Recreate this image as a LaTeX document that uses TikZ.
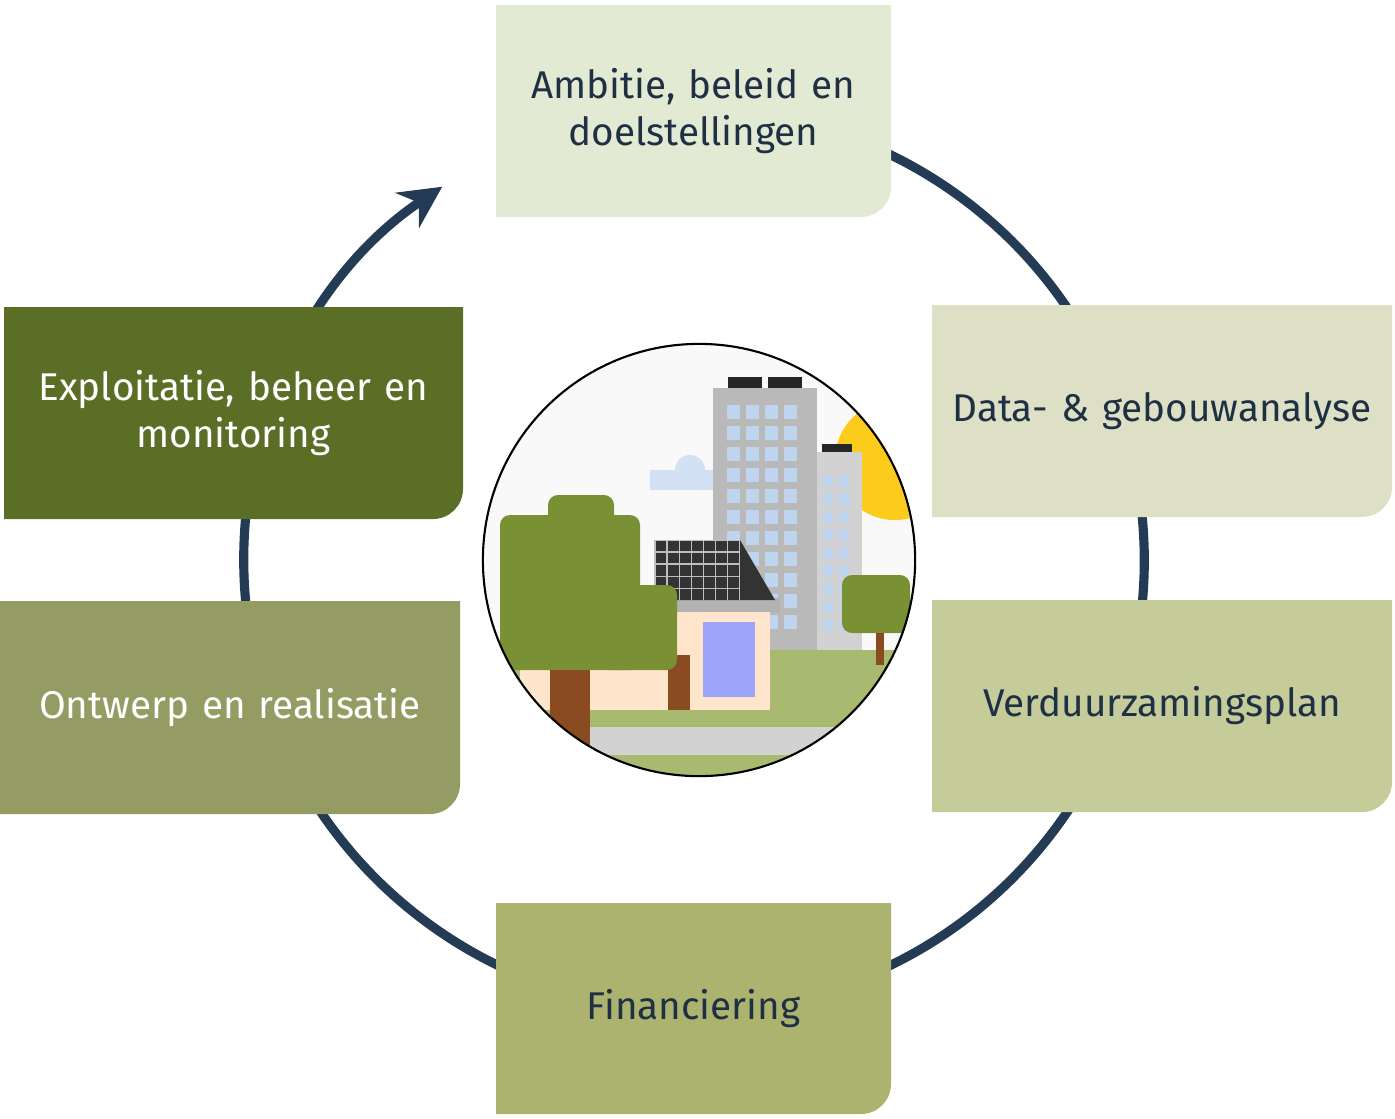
\documentclass[tikz,border=0pt]{standalone}
\usepackage{fontspec}
\setmainfont{Fira Sans}
\usepackage{tikz}
\usetikzlibrary{calc,arrows.meta}
\definecolor{ringblue}{HTML}{243B55}
\definecolor{textblue}{HTML}{1F3044}
\definecolor{boxA}{HTML}{E3EAD3}
\definecolor{boxB}{HTML}{DDE0C4}
\definecolor{boxC}{HTML}{C6CB9A}
\definecolor{boxD}{HTML}{ABB36F}
\definecolor{boxE}{HTML}{959C63}
\definecolor{boxF}{HTML}{5B6E25}
\definecolor{leaf}{HTML}{7A9035}
\definecolor{trunk}{HTML}{8A4B20}
\definecolor{glass}{HTML}{BFD4EF}
\definecolor{lawn}{HTML}{A8BA70}
\tikzset{
  steplabel/.style={font=\fontsize{11}{13.5}\selectfont, align=center, text width=4.5cm},
}
% box with only the lower right corner rounded
\newcommand{\stepbox}[6]{%
  \fill[#4] (#2) -- (#2 -| #3) [rounded corners=0.3cm] -- (#3) [sharp corners] -- (#3 -| #2) -- cycle;
  \node[steplabel, text=#5] (#1) at ($(#2)!0.5!(#3)$) {#6};
}
\begin{document}
\begin{tikzpicture}[x=0.01cm, y=-0.01cm]
        \useasboundingbox (0,0) rectangle (1395,1118);
        % Centre of the cycle
        \coordinate (O) at (694,560);
        % Ring with arrow
        \draw[ringblue, line width=2.6pt, -{Stealth[length=0.42cm,width=0.42cm]}]
          (O) ++(95:4.5cm) arc[start angle=95, end angle=-236, radius=4.5cm];
        % Steps
        \coordinate (a1) at (496,5);    \coordinate (a2) at (891,217);
        \coordinate (b1) at (932,305);  \coordinate (b2) at (1392,517);
        \coordinate (c1) at (932,600);  \coordinate (c2) at (1392,812);
        \coordinate (d1) at (496,903);  \coordinate (d2) at (891,1114);
        \coordinate (e1) at (0,601);    \coordinate (e2) at (460,814);
        \coordinate (f1) at (4,307);    \coordinate (f2) at (463,519);
        \stepbox{ambitie}{a1}{a2}{boxA}{textblue}{Ambitie, beleid en\\doelstellingen}
        \stepbox{analyse}{b1}{b2}{boxB}{textblue}{Data- \& gebouwanalyse}
        \stepbox{plan}{c1}{c2}{boxC}{textblue}{Verduurzamingsplan}
        \stepbox{financiering}{d1}{d2}{boxD}{textblue}{Financiering}
        \stepbox{ontwerp}{e1}{e2}{boxE}{white}{Ontwerp en realisatie}
        \stepbox{beheer}{f1}{f2}{boxF}{white}{Exploitatie, beheer en\\monitoring}
        % Illustration in the middle
        \coordinate (P) at (699,560);
        \begin{scope}
          \clip (P) circle[radius=2.16cm];
          \fill[white!95!gray] (P) circle[radius=2.16cm];
          \fill[yellow!60!orange!90!white] (895,460) circle[radius=0.6cm]; % sun
          \fill[glass!70!white] (650,490) rectangle (715,470);
          \fill[glass!70!white] (690,470) circle[radius=0.15cm];
          \fill[gray!55] (713,388) rectangle (817,650); % tall building
          \fill[gray!35] (817,452) rectangle (862,650);
          \fill[black!85] (728,377) rectangle (762,388);
          \fill[black!85] (768,377) rectangle (802,388);
          \fill[black!85] (822,444) rectangle (852,452);
          \foreach \i in {0,...,10}
            \foreach \j in {0,...,3}
              \fill[glass] (727+\j*19,405+\i*21) rectangle ++(13,14);
          \foreach \i in {0,...,8}
            \foreach \j in {0,1}
              \fill[glass] (823+\j*16,475+\i*18) rectangle ++(10,12);
          \fill[lawn] (480,650) rectangle (920,790); % ground
          \fill[gray!35] (480,727) rectangle (920,755); % road
          \fill[orange!20] (520,603) rectangle (770,710); % house
          \fill[gray!60] (645,598) rectangle (780,612);
          \fill[black!80] (655,540) -- (740,540) -- (775,600) -- (655,600) -- cycle; % solar roof
          \draw[gray!50, line width=0.3pt, step=0.12cm, shift={(655,540)}] (0,0) grid (85,60);
          \fill[glass!60!blue!70!white] (703,622) rectangle (755,697);
          \fill[trunk] (668,655) rectangle (690,710);
          \fill[leaf, rounded corners=0.1cm] (500,515) rectangle (640,670); % big tree
          \fill[leaf, rounded corners=0.1cm] (548,495) rectangle (614,540);
          \fill[leaf, rounded corners=0.1cm] (600,585) rectangle (677,670);
          \fill[trunk] (550,670) rectangle (590,745);
          \fill[leaf, rounded corners=0.1cm] (842,575) rectangle (910,633); % small tree
          \fill[trunk] (876,633) rectangle (884,665);
        \end{scope}
        \draw[black, line width=0.6pt] (P) circle[radius=2.16cm];
\end{tikzpicture}
\end{document}
